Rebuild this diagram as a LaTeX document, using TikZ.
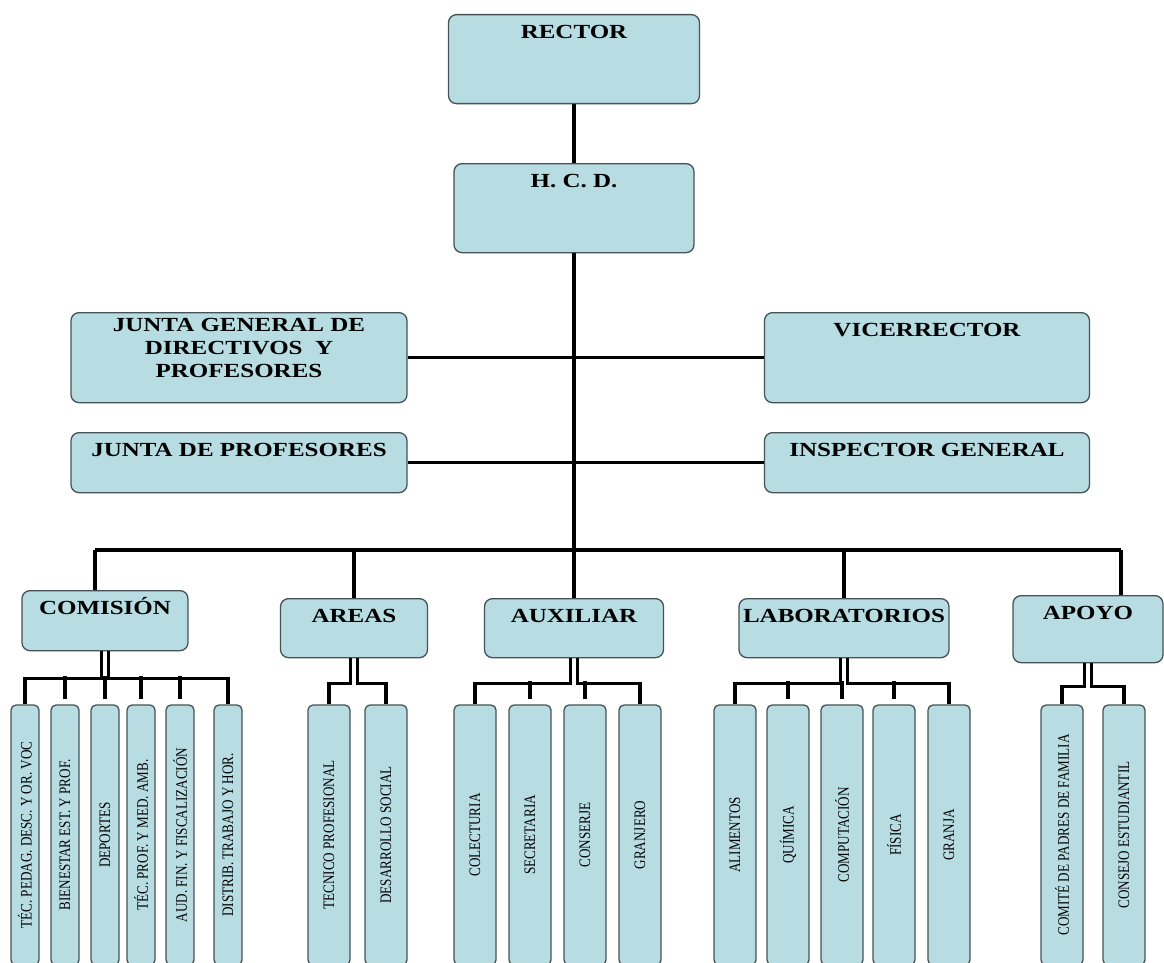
\documentclass[tikz,border=0pt]{standalone}
\usepackage{fontspec}
\newfontfamily\headfont{Liberation Serif}[FakeStretch=1.25]
\newfontfamily\subfont{Liberation Serif}[FakeStretch=0.82]
\usepackage{tikz}
\definecolor{boxfill}{RGB}{183,221,227}
\definecolor{boxline}{RGB}{70,82,86}

\begin{document}
\begin{tikzpicture}[x=1pt, y=-1pt,
  head/.style={draw=boxline, fill=boxfill, line width=1.3pt, rounded corners=8pt, anchor=north,
    font=\headfont\bfseries\fontsize{20}{23}\selectfont, align=center, inner ysep=10pt, text height=14pt},
  lbox/.style={draw=boxline, fill=boxfill, line width=1.3pt, rounded corners=5pt, rotate=90,
    minimum width=260pt, minimum height=#1, inner sep=0pt, font=\subfont\fontsize{16}{18}\selectfont},
  lbox/.default=42pt,
  link/.style={line width=3.2pt}]
  \useasboundingbox (0,0) rectangle (1164,963);
  \fill[white] (0,0) rectangle (1164,963);

  \node[head, minimum width=251pt, text depth=55pt] (rector) at (574,14) {RECTOR};
  \node[head, minimum width=240pt, text depth=55pt] (hcd) at (574,163) {H. C. D.};
  \node[head, minimum width=336pt, minimum height=90pt, inner ysep=5pt, text height=, text depth=19pt] (jgen) at (239,312)
    {JUNTA GENERAL DE\\DIRECTIVOS \ Y\\PROFESORES};
  \node[head, minimum width=325pt, text depth=56pt] (vice) at (927,312) {VICERRECTOR};
  \node[head, minimum width=336pt, text depth=26pt] (jprof) at (239,432) {JUNTA DE PROFESORES};
  \node[head, minimum width=325pt, text depth=26pt] (insp) at (927,432) {INSPECTOR GENERAL};
  \node[head, minimum width=166pt, text depth=26pt] (com) at (105,590) {COMISIÓN};
  \node[head, minimum width=147pt, text depth=25pt] (areas) at (354,598) {AREAS};
  \node[head, minimum width=179pt, text depth=25pt] (aux) at (574,598) {AUXILIAR};
  \node[head, minimum width=210pt, text depth=25pt] (lab) at (844,598) {LABORATORIOS};
  \node[head, minimum width=150pt, text depth=33pt] (apoyo) at (1088,595) {APOYO};

  \foreach \x/\t [count=\i] in {25/{TÉC. PEDAG. DESC. Y OR. VOC}, 65/{BIENESTAR EST. Y PROF.}, 105/DEPORTES,
      141/{TÉC. PROF. Y MED. AMB.}, 180/{AUD. FIN. Y FISCALIZACIÓN}, 228/{DISTRIB. TRABAJO Y HOR.}}
    \node[lbox=28pt] (com\i) at (\x,835) {\t};
  \foreach \x/\t [count=\i] in {329/{TECNICO PROFESIONAL}, 386/{DESARROLLO SOCIAL}}
    \node[lbox] (areas\i) at (\x,835) {\t};
  \foreach \x/\t [count=\i] in {475/COLECTURIA, 530/SECRETARIA, 585/CONSERJE, 640/GRANJERO}
    \node[lbox] (aux\i) at (\x,835) {\t};
  \foreach \x/\t [count=\i] in {735/ALIMENTOS, 788/QUÍMICA, 842/COMPUTACIÓN, 894/FÍSICA, 949/GRANJA}
    \node[lbox] (lab\i) at (\x,835) {\t};
  \foreach \x/\t [count=\i] in {1062/{COMITÉ DE PADRES DE FAMILIA}, 1124/{CONSEJO ESTUDIANTIL}}
    \node[lbox] (apoyo\i) at (\x,835) {\t};

  \coordinate (busL) at (95,550);
  \coordinate (busR) at (1121,550);
  \draw[link] (rector) -- (hcd);
  \draw[link] (hcd) -- (hcd |- busL);
  \draw[link] (jgen) -- (vice);
  \draw[link] (jprof) -- (insp);
  \draw[link] (busL) -- (busR);
  \draw[link] (busL) -- (busL |- com.north);
  \foreach \n in {areas,aux,lab} \draw[link] (\n.north |- busL) -- (\n);
  \draw[link] (busR) -- (busR |- apoyo.north);

  \draw[link] ([xshift=-3.5pt]com.south) -- ++(0,27) -| (com1.east);
  \draw[link] ([xshift=3.5pt]com.south) -- ++(0,27) -| (com6.east);
  \foreach \i in {2,...,5} \draw[link, shorten <=5pt] (com\i.east) -- ++(0,-28);
  \draw[link] ([xshift=-3.5pt]areas.south) -- ++(0,25) -| (areas1.east);
  \draw[link] ([xshift=3.5pt]areas.south) -- ++(0,25) -| (areas2.east);
  \draw[link] ([xshift=-3.5pt]aux.south) -- ++(0,25) -| (aux1.east);
  \draw[link] ([xshift=3.5pt]aux.south) -- ++(0,25) -| (aux4.east);
  \foreach \i in {2,3} \draw[link, shorten <=5pt] (aux\i.east) -- ++(0,-23);
  \draw[link] ([xshift=-3.5pt]lab.south) -- ++(0,25) -| (lab1.east);
  \draw[link] ([xshift=3.5pt]lab.south) -- ++(0,25) -| (lab5.east);
  \foreach \i in {2,3,4} \draw[link, shorten <=5pt] (lab\i.east) -- ++(0,-23);
  \draw[link] ([xshift=-3.5pt]apoyo.south) -- ++(0,23) -| (apoyo1.east);
  \draw[link] ([xshift=3.5pt]apoyo.south) -- ++(0,23) -| (apoyo2.east);
\end{tikzpicture}
\end{document}
